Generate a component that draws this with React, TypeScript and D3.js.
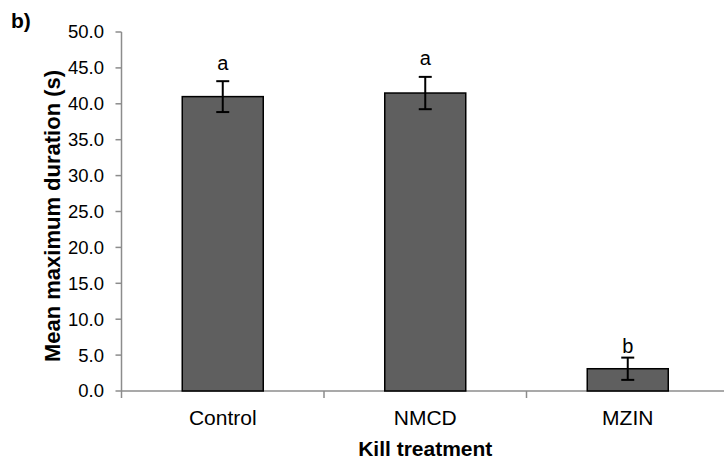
import React, { useEffect, useRef } from "react";
import * as d3 from "d3";

// data
const treatments = ["Control", "NMCD", "MZIN"];
const means = [41.0, 41.5, 3.1];
const errors = [2.15, 2.25, 1.55];
const letters = ["a", "a", "b"];
const letterPos = [44.7, 45.4, 5.3]; // where the letters sit, in axis units
const yTicks = [0, 5, 10, 15, 20, 25, 30, 35, 40, 45, 50];

const W = 724;
const H = 462;

const App = () => {
  const ref = useRef(null);

  useEffect(() => {
    const svg = d3.select(ref.current);
    svg.selectAll("*").remove();

    const font = "'Liberation Sans', Arial, sans-serif";
    const axisColor = "#8c8c8c";

    const left = 121.5;
    const bottom = 391;

    const y = d3.scaleLinear().domain([0, 50]).range([bottom, 32]);
    const x = d3
      .scaleBand()
      .domain(treatments)
      .range([left, left + 3 * 202.5])
      .paddingInner(0.6)
      .paddingOuter(0.3);

    // y axis
    svg
      .append("line")
      .attr("x1", left)
      .attr("x2", left)
      .attr("y1", y(50))
      .attr("y2", bottom)
      .attr("stroke", axisColor)
      .attr("stroke-width", 1.5);

    const yt = svg
      .selectAll(".yt")
      .data(yTicks)
      .enter()
      .append("g")
      .attr("transform", (d) => `translate(0,${y(d)})`);

    yt.append("line")
      .attr("x1", left - 6)
      .attr("x2", left)
      .attr("stroke", axisColor)
      .attr("stroke-width", 1.5);

    yt.append("text")
      .attr("x", 104)
      .attr("dy", "0.35em")
      .attr("text-anchor", "end")
      .attr("font-family", font)
      .attr("font-size", 18.5)
      .attr("fill", "#000")
      .text((d) => d.toFixed(1));

    // x axis
    svg
      .append("line")
      .attr("x1", left)
      .attr("x2", W)
      .attr("y1", bottom)
      .attr("y2", bottom)
      .attr("stroke", axisColor)
      .attr("stroke-width", 1.5);

    const step = x.step();
    svg
      .selectAll(".xt")
      .data(d3.range(4))
      .enter()
      .append("line")
      .attr("x1", (i) => left + i * step)
      .attr("x2", (i) => left + i * step)
      .attr("y1", bottom)
      .attr("y2", bottom + 7)
      .attr("stroke", axisColor)
      .attr("stroke-width", 1.5);

    // bars
    svg
      .selectAll(".bar")
      .data(treatments)
      .enter()
      .append("rect")
      .attr("x", (d) => x(d))
      .attr("y", (d, i) => y(means[i]))
      .attr("width", x.bandwidth())
      .attr("height", (d, i) => bottom - y(means[i]))
      .attr("fill", "#5f5f5f")
      .attr("stroke", "#000")
      .attr("stroke-width", 1.5);

    // error bars
    const eb = svg
      .selectAll(".err")
      .data(treatments)
      .enter()
      .append("g")
      .attr("stroke", "#000")
      .attr("stroke-width", 2);

    const cx = (d) => x(d) + x.bandwidth() / 2;
    eb.append("line")
      .attr("x1", cx)
      .attr("x2", cx)
      .attr("y1", (d, i) => y(means[i] + errors[i]))
      .attr("y2", (d, i) => y(means[i] - errors[i]));
    eb.append("line")
      .attr("x1", (d) => cx(d) - 6.5)
      .attr("x2", (d) => cx(d) + 6.5)
      .attr("y1", (d, i) => y(means[i] + errors[i]))
      .attr("y2", (d, i) => y(means[i] + errors[i]));
    eb.append("line")
      .attr("x1", (d) => cx(d) - 6.5)
      .attr("x2", (d) => cx(d) + 6.5)
      .attr("y1", (d, i) => y(means[i] - errors[i]))
      .attr("y2", (d, i) => y(means[i] - errors[i]));

    // significance letters
    svg
      .selectAll(".letter")
      .data(treatments)
      .enter()
      .append("text")
      .attr("x", cx)
      .attr("y", (d, i) => y(letterPos[i]))
      .attr("text-anchor", "middle")
      .attr("font-family", font)
      .attr("font-size", 20)
      .text((d, i) => letters[i]);

    // category labels
    svg
      .selectAll(".cat")
      .data(treatments)
      .enter()
      .append("text")
      .attr("x", cx)
      .attr("y", 425)
      .attr("text-anchor", "middle")
      .attr("font-family", font)
      .attr("font-size", 21)
      .text((d) => d);

    // axis titles
    svg
      .append("text")
      .attr("x", x("NMCD") + x.bandwidth() / 2)
      .attr("y", 456)
      .attr("text-anchor", "middle")
      .attr("font-family", font)
      .attr("font-size", 21)
      .attr("font-weight", "bold")
      .text("Kill treatment");

    svg
      .append("text")
      .attr("transform", `translate(60,216) rotate(-90)`)
      .attr("text-anchor", "middle")
      .attr("font-family", font)
      .attr("font-size", 22)
      .attr("font-weight", "bold")
      .text("Mean maximum duration (s)");

    // panel label
    svg
      .append("text")
      .attr("x", 11)
      .attr("y", 28)
      .attr("font-family", font)
      .attr("font-size", 21)
      .attr("font-weight", "bold")
      .text("b)");
  }, []);

  return (
    <svg
      ref={ref}
      width={W}
      height={H}
      style={{ position: "absolute", left: 0, top: 0, background: "#fff" }}
    />
  );
};

export default App;
